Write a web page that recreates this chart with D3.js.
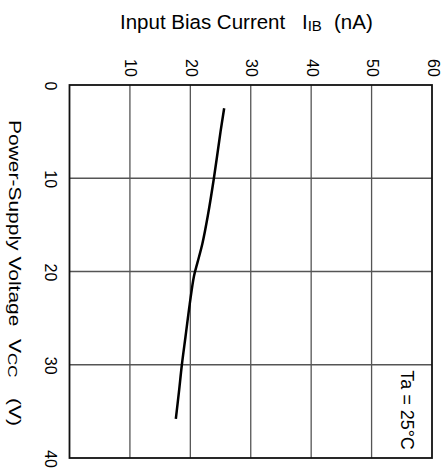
<!DOCTYPE html>
<html><head><meta charset="utf-8">
<script src="https://cdn.jsdelivr.net/npm/d3@7"></script>
<style>body{margin:0;background:#fff}svg{display:block}text{font-family:"Liberation Sans",Arial,sans-serif;fill:#000}</style>
</head><body><svg id="c" width="448" height="474"></svg>
<script>
const ibTicks = [0,10,20,30,40,50,60];
const vccTicks = [0,10,20,30,40];
const vcc = [2.5, 5, 10, 14, 17, 19, 20.5, 23.5, 27, 30, 33, 35.8];
const ib  = [25.6, 25.0, 23.9, 22.9, 22.0, 21.2, 20.6, 19.9, 19.2, 18.6, 18.1, 17.6];

const svg = d3.select("#c");
const x = d3.scaleLinear().domain([0,60]).range([69.5,432]);
const y = d3.scaleLinear().domain([0,40]).range([85,458]);

// grid
svg.append("g").selectAll("line").data(ibTicks.slice(1,-1)).join("line")
  .attr("x1",d=>x(d)).attr("x2",d=>x(d)).attr("y1",y(0)).attr("y2",y(40))
  .attr("stroke","#555").attr("stroke-width",1.3);
svg.append("g").selectAll("line").data(vccTicks.slice(1,-1)).join("line")
  .attr("y1",d=>y(d)).attr("y2",d=>y(d)).attr("x1",x(0)).attr("x2",x(60))
  .attr("stroke","#555").attr("stroke-width",1.3);
svg.append("rect").attr("x",x(0)).attr("y",y(0)).attr("width",x(60)-x(0)).attr("height",y(40)-y(0))
  .attr("fill","none").attr("stroke","#111").attr("stroke-width",1.8);

// top tick labels (rotated)
svg.append("g").selectAll("text").data(ibTicks.slice(1)).join("text")
  .attr("transform",d=>`translate(${x(d)+1},68) rotate(90)`)
  .attr("text-anchor","middle").attr("dominant-baseline","central")
  .attr("font-size",16).text(d=>d);
// left tick labels (rotated)
svg.append("g").selectAll("text").data(vccTicks).join("text")
  .attr("transform",d=>`translate(50.5,${y(d)+1}) rotate(90)`)
  .attr("text-anchor","middle").attr("dominant-baseline","central")
  .attr("font-size",16).text(d=>d);

// top title
const t1 = svg.append("text").attr("y",28.5).attr("font-size",20.5);
t1.append("tspan").attr("x",120).text("Input Bias Current");
t1.append("tspan").attr("x",302).text("I");
t1.append("tspan").attr("font-size",15).attr("dy",2.5).text("IB");
t1.append("tspan").attr("x",334).attr("dy",-2.5).text("(nA)");

// left title
const t2 = svg.append("text").attr("transform","translate(9,120) rotate(90) scale(1,0.79)")
  .attr("font-size",21);
t2.append("tspan").attr("x",0).text("Power-Supply Voltage");
t2.append("tspan").attr("x",219).text("V");
t2.append("tspan").attr("font-size",17).attr("dy",1.5).text("CC");
t2.append("tspan").attr("x",278).attr("dy",-1.5).text("(V)");

// annotation
svg.append("text").attr("transform","translate(407,410) rotate(90)")
  .attr("text-anchor","middle").attr("dominant-baseline","central").attr("font-size",18)
  .text("Ta = 25°C");

// curve
const pts = vcc.map((v,i)=>[ib[i],v]);
svg.append("path").datum(pts)
  .attr("d",d3.line().x(d=>x(d[0])).y(d=>y(d[1])).curve(d3.curveCatmullRom))
  .attr("fill","none").attr("stroke","#000").attr("stroke-width",2.5);
</script></body></html>
